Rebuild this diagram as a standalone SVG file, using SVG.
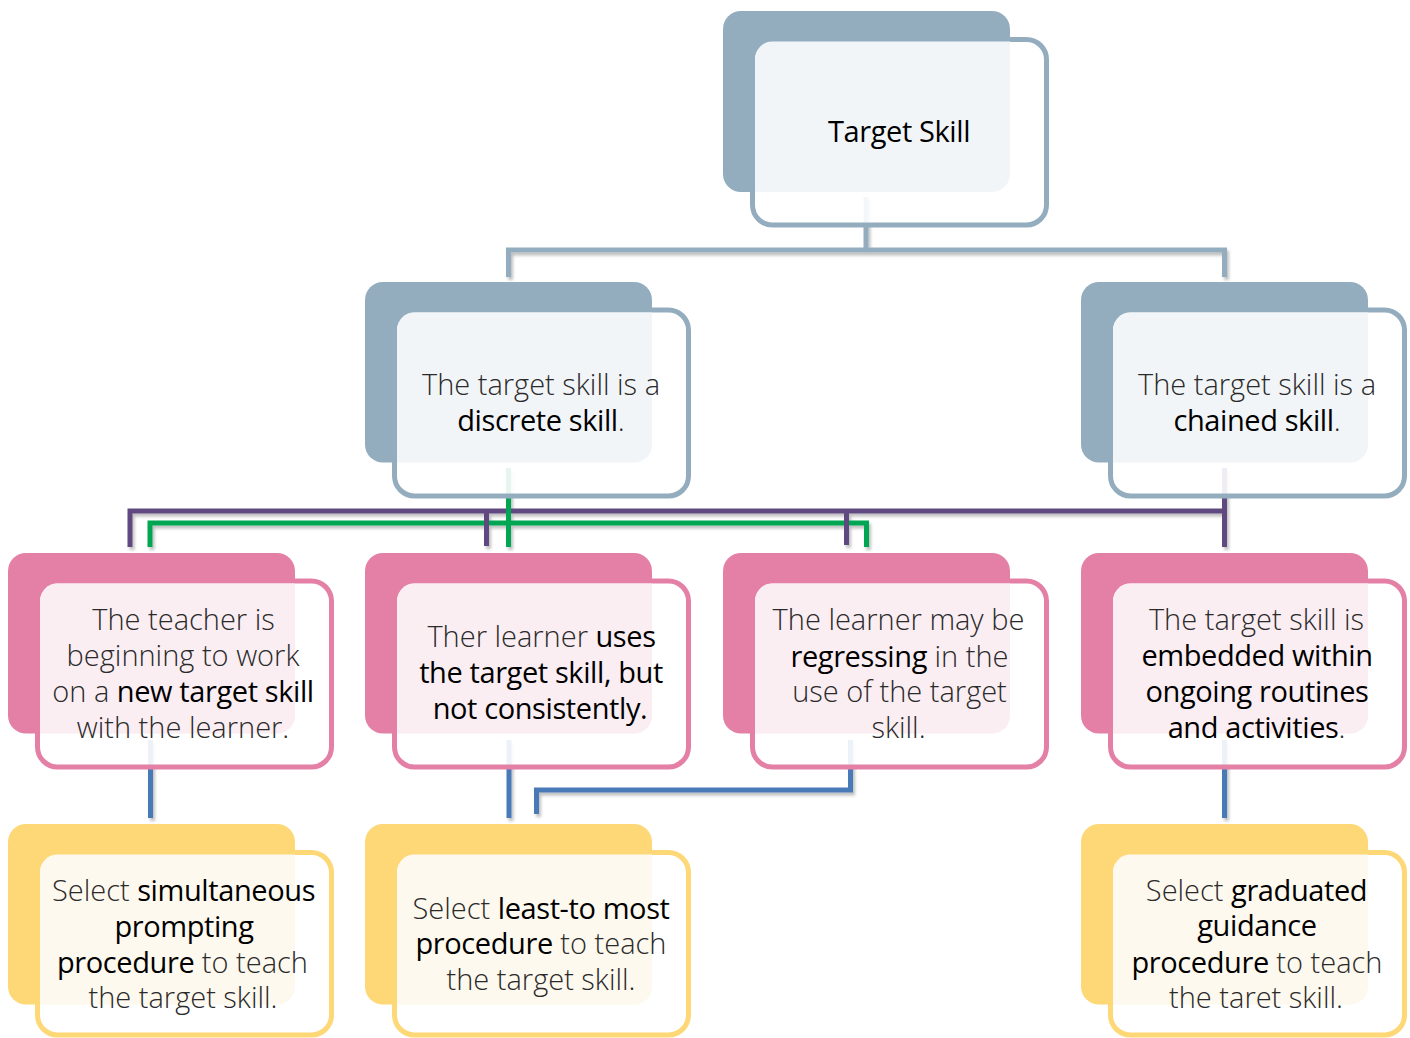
<svg xmlns="http://www.w3.org/2000/svg" width="1410" height="1038" viewBox="0 0 1410 1038">
<style>
.back{stroke:none}
.front{fill:#ffffff;fill-opacity:0.9;stroke-width:5}
.gb{fill:#93adbf}.gf{stroke:#93adbf}.gt{fill:#f2f5f8}
.pb{fill:#e480a6}.pf{stroke:#e480a6}.pt{fill:#fbeef3}
.yb{fill:#fed877}.yf{stroke:#fed877}.yt{fill:#fef9ee}
.t{font-family:"Open Sans","Noto Sans","Liberation Sans",sans-serif;font-size:29px;font-weight:300;fill:#2a2a2a;text-anchor:middle}
.b{font-weight:400;fill:#000;letter-spacing:-0.4px}
.c{fill:none;stroke-width:5;stroke-linecap:butt;stroke-linejoin:miter}
.cg{stroke:#93adbf}.cp{stroke:#5f4a80}.cn{stroke:#00a651}.cb{stroke:#4a7ab8}
</style>
<defs>
<filter id="sh" x="-10%" y="-10%" width="120%" height="130%">
<feDropShadow dx="2" dy="3" stdDeviation="1.8" flood-color="#000" flood-opacity="0.25"/>
</filter>
<path id="tint" d="M32,48 A17.5,17.5 0 0 1 49.5,30.5 H287 V162.5 A18,18 0 0 1 269,180.5 H32 Z"/>
</defs>

<g id="connectors" filter="url(#sh)">
<path class="c cg" d="M866,197 V250"/>
<path class="c cg" d="M508.5,277 V250 H1224.5 V277"/>
<path class="c cn" d="M150,547 V523 H866.5 V547"/>
<path class="c cp" d="M130,547 V511 H1224.5"/>
<path class="c cp" d="M1224.5,468 V547"/>
<path class="c cp" d="M486.5,511 V546"/>
<path class="c cp" d="M846.5,511 V545"/>
<path class="c cn" d="M508.5,468 V547"/>
<path class="c cb" d="M150.5,740 V818"/>
<path class="c cb" d="M509,740 V818"/>
<path class="c cb" d="M850.5,740 V790 H536.5 V814"/>
<path class="c cb" d="M1224.5,740 V818"/>
</g>

<g id="node-target-skill" transform="translate(723,11)">
<rect class="back gb" x="0" y="0" width="287" height="181" rx="18"/>
<rect class="front gf" x="29.5" y="28.5" width="294" height="185.5" rx="20"/>
<use href="#tint" class="gt"/>
<text class="t" x="176" y="130.5"><tspan class="b">Target Skill</tspan></text>
</g>

<g id="node-discrete" transform="translate(365,282)">
<rect class="back gb" x="0" y="0" width="287" height="180.5" rx="18"/>
<rect class="front gf" x="29.5" y="28" width="294" height="186" rx="20"/>
<use href="#tint" class="gt"/>
<text class="t" x="176" y="113">The target skill is a</text>
<text class="t" x="176" y="149"><tspan class="b">discrete skill</tspan>.</text>
</g>

<g id="node-chained" transform="translate(1081,282)">
<rect class="back gb" x="0" y="0" width="287" height="180.5" rx="18"/>
<rect class="front gf" x="29.5" y="28" width="294" height="186" rx="20"/>
<use href="#tint" class="gt"/>
<text class="t" x="176" y="113">The target skill is a</text>
<text class="t" x="176" y="149"><tspan class="b">chained skill</tspan>.</text>
</g>

<g id="node-new-skill" transform="translate(8,553)">
<rect class="back pb" x="0" y="0" width="287" height="180.5" rx="18"/>
<rect class="front pf" x="29.5" y="28" width="294" height="186" rx="20"/>
<use href="#tint" class="pt"/>
<text class="t" x="175.5" y="77">The teacher is</text>
<text class="t" x="175" y="113">beginning to work</text>
<text class="t" x="175" y="149">on a <tspan class="b">new target skill</tspan></text>
<text class="t" x="175" y="185">with the learner.</text>
</g>

<g id="node-inconsistent" transform="translate(365,553)">
<rect class="back pb" x="0" y="0" width="287" height="180.5" rx="18"/>
<rect class="front pf" x="29.5" y="28" width="294" height="186" rx="20"/>
<use href="#tint" class="pt"/>
<text class="t" x="176.5" y="94">Ther learner <tspan class="b">uses</tspan></text>
<text class="t" x="176" y="130"><tspan class="b">the target skill, but</tspan></text>
<text class="t" x="175" y="166"><tspan class="b">not consistently.</tspan></text>
</g>

<g id="node-regressing" transform="translate(723,553)">
<rect class="back pb" x="0" y="0" width="287" height="180.5" rx="18"/>
<rect class="front pf" x="29.5" y="28" width="294" height="186" rx="20"/>
<use href="#tint" class="pt"/>
<text class="t" x="175.5" y="77">The learner may be</text>
<text class="t" x="176.5" y="113.5"><tspan class="b">regressing</tspan> in the</text>
<text class="t" x="176.5" y="149">use of the target</text>
<text class="t" x="175.5" y="185">skill.</text>
</g>

<g id="node-embedded" transform="translate(1081,553)">
<rect class="back pb" x="0" y="0" width="287" height="180.5" rx="18"/>
<rect class="front pf" x="29.5" y="28" width="294" height="186" rx="20"/>
<use href="#tint" class="pt"/>
<text class="t" x="175.5" y="77">The target skill is</text>
<text class="t" x="176" y="113"><tspan class="b">embedded within</tspan></text>
<text class="t" x="176" y="148.5"><tspan class="b">ongoing routines</tspan></text>
<text class="t" x="175.5" y="185"><tspan class="b">and activities</tspan>.</text>
</g>

<g id="node-simultaneous" transform="translate(8,824)">
<rect class="back yb" x="0" y="0" width="287" height="180.5" rx="18"/>
<rect class="front yf" x="29.5" y="28.5" width="294" height="182.5" rx="20"/>
<use href="#tint" class="yt"/>
<text class="t" x="175.5" y="77">Select <tspan class="b">simultaneous</tspan></text>
<text class="t" x="176" y="113"><tspan class="b">prompting</tspan></text>
<text class="t" x="174.5" y="148.5"><tspan class="b">procedure</tspan> to teach</text>
<text class="t" x="175" y="184">the target skill.</text>
</g>

<g id="node-least-to-most" transform="translate(365,824)">
<rect class="back yb" x="0" y="0" width="287" height="180.5" rx="18"/>
<rect class="front yf" x="29.5" y="28.5" width="294" height="182.5" rx="20"/>
<use href="#tint" class="yt"/>
<text class="t" x="176" y="94.5">Select <tspan class="b">least-to most</tspan></text>
<text class="t" x="176" y="130"><tspan class="b">procedure</tspan> to teach</text>
<text class="t" x="176" y="166">the target skill.</text>
</g>

<g id="node-graduated" transform="translate(1081,824)">
<rect class="back yb" x="0" y="0" width="287" height="180.5" rx="18"/>
<rect class="front yf" x="29.5" y="28.5" width="294" height="182.5" rx="20"/>
<use href="#tint" class="yt"/>
<text class="t" x="175.5" y="76.5">Select <tspan class="b">graduated</tspan></text>
<text class="t" x="176" y="112"><tspan class="b">guidance</tspan></text>
<text class="t" x="176" y="148.5"><tspan class="b">procedure</tspan> to teach</text>
<text class="t" x="175" y="184">the taret skill.</text>
</g>
</svg>
